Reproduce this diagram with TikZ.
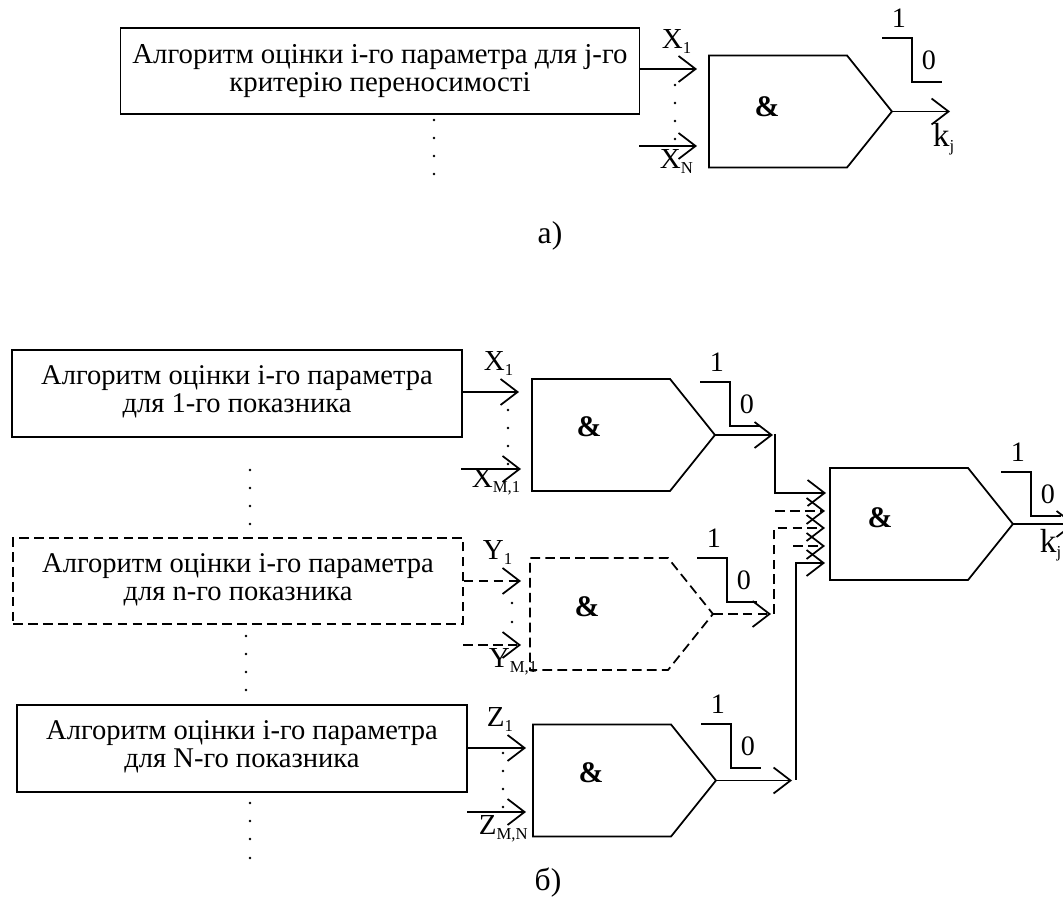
\documentclass[tikz,border=0pt]{standalone}
\usepackage{fontspec}
\setmainfont{Liberation Serif}
\usetikzlibrary{arrows.meta,shapes.symbols}
\newcommand{\subs}[1]{\raisebox{-2.5pt}{\fontsize{9.5}{10}\selectfont #1}}
\tikzset{
  algbox/.style={draw, line width=1pt, align=center, inner sep=0pt, minimum height=1.73cm,
    minimum width=9cm, font=\fontsize{16.25}{16}\selectfont},
  andgate/.style={draw, line width=1pt, shape=signal, signal to=east, signal pointer angle=102.5,
    minimum width=3.66cm, minimum height=2.24cm, inner sep=0pt, outer sep=0pt, anchor=west},
  flowarrow/.style={-{Straight Barb[length=3.4mm,width=5.2mm,line width=1pt]}, line width=1pt},
  dashline/.style={dash pattern=on 5.5pt off 3pt},
  sig/.style={font=\fontsize{16.5}{18}\selectfont, inner sep=0pt, anchor=base west},
  lvl/.style={font=\fontsize{16}{18}\selectfont, inner sep=0pt},
  amp/.style={font=\fontsize{17}{19}\selectfont\bfseries, inner sep=0pt},
  capt/.style={font=\fontsize{18}{20}\selectfont, inner sep=0pt}
}
\begin{document}
\begin{tikzpicture}[x=0.02cm,y=-0.02cm,line width=1pt]
  \useasboundingbox (0,0) rectangle (1063,918);

  % a)
  \node[algbox, minimum width=10.38cm, font=\fontsize{16.4}{16}\selectfont] (boxa) at (380,71)
    {Алгоритм оцінки і-го параметра для j-го\\критерію переносимості\rule[-2.3pt]{0pt}{2.3pt}};
  \node[andgate] (gatea) at (709,111.5) {};
  \node[amp] (ampa) at (767,107) {\&};
  \coordinate (ina1) at (697,69);
  \coordinate (ina2) at (697,146);
  \coordinate (fromxn) at (639,146);
  \coordinate (outa) at (950,112);
  \draw[flowarrow] (boxa.east |- ina1) -- (ina1);
  \draw[flowarrow] (fromxn) -- (ina2);
  \draw[flowarrow] (gatea.east) -- (gatea.east -| outa);
  \node[sig] (xa1) at (661,49) {X\subs{1}};
  \node[sig] (xan) at (659,169) {X\subs{N}};
  \node[sig, font=\fontsize{19}{20}\selectfont] (kja) at (932,147) {k\subs{j}};
  \node[capt] (capa) at (550,236) {а)};

  % б)
  \node[algbox] (boxb1) at (237,393.5)
    {Алгоритм оцінки і-го параметра\\для 1-го показника\rule[-5pt]{0pt}{5pt}};
  \node[algbox, dashline] (boxb2) at (238,581)
    {Алгоритм оцінки і-го параметра\\для n-го показника\rule[-5pt]{0pt}{5pt}};
  \node[algbox] (boxb3) at (242,748.5)
    {Алгоритм оцінки і-го параметра\\для N-го показника\rule[-5pt]{0pt}{5pt}};

  \node[andgate] (gateb1) at (532,435) {};
  \node[andgate, dashline] (gateb2) at (530,614) {};
  \node[andgate] (gateb3) at (533,780.5) {};
  \node[andgate] (gatec) at (830,524) {};
  \node[amp] (ampb1) at (589,427) {\&};
  \node[amp] (ampb2) at (587,607) {\&};
  \node[amp] (ampb3) at (591,773) {\&};
  \node[amp] (ampc) at (880,518) {\&};

  \coordinate (inb1) at (519,392);
  \coordinate (inb1m) at (521,469);
  \coordinate (fromb1m) at (461,469);
  \coordinate (inb2) at (521,581);
  \coordinate (inb2m) at (521,645);
  \coordinate (fromb2m) at (463,645);
  \coordinate (inb3) at (526,748);
  \coordinate (inb3m) at (526,812);
  \coordinate (fromb3m) at (467,812);
  \draw[flowarrow] (boxb1.east |- inb1) -- (inb1);
  \draw[flowarrow] (fromb1m) -- (inb1m);
  \draw[flowarrow, dashline] (boxb2.east |- inb2) -- (inb2);
  \draw[flowarrow, dashline] (fromb2m) -- (inb2m);
  \draw[flowarrow] (boxb3.east |- inb3) -- (inb3);
  \draw[flowarrow] (fromb3m) -- (inb3m);

  \coordinate (outb1) at (773,434);
  \coordinate (outb2) at (771,614);
  \coordinate (outb3) at (792,780);
  \draw[flowarrow] (gateb1.east) -- (gateb1.east -| outb1);
  \draw[flowarrow, dashline] (gateb2.east) -- (gateb2.east -| outb2);
  \draw[flowarrow] (gateb3.east) -- (gateb3.east -| outb3);

  \coordinate (busb1) at (775,434);
  \coordinate (busb2) at (774,614);
  \coordinate (busb3) at (796,780);
  \coordinate (inc1) at (826,493);
  \coordinate (inc2) at (825,511);
  \coordinate (inc3) at (825,528);
  \coordinate (inc4) at (825,546);
  \coordinate (inc5) at (825,563);
  \coordinate (fromc2) at (775,511);
  \coordinate (fromc4) at (793,546);
  \draw[flowarrow] (busb1) |- (inc1);
  \draw[flowarrow, dashline] (fromc2) -- (inc2);
  \draw[flowarrow, dashline] (busb2) |- (inc3);
  \draw[flowarrow, dashline] (fromc4) -- (inc4);
  \draw[flowarrow] (busb3) |- (inc5);

  \coordinate (outc) at (1075,524);
  \draw[flowarrow] (gatec.east) -- (outc);

  \node[sig] (xb1) at (483,371) {X\subs{1}};
  \node[sig] (xbm) at (471,488) {X\subs{M,1}};
  \node[sig] (yb1) at (482,560) {Y\subs{1}};
  \node[sig] (ybm) at (488,668) {Y\subs{M,1}};
  \node[sig] (zb1) at (486,727) {Z\subs{1}};
  \node[sig] (zbm) at (478,835) {Z\subs{M,N}};
  \node[sig, font=\fontsize{19}{20}\selectfont] (kjc) at (1039,553) {k\subs{j}};
  \node[capt] (capb) at (548,883) {б)};

  % step marks with their levels
  \foreach \sx/\sy in {882/38,700/382,697/558,701/724,1001/472}{
    \draw (\sx,\sy) -- ++(30,0) -- ++(0,44) -- ++(30,0);
    \node[lvl] (one\sx) at (\sx+17,\sy-20) {1};
    \node[lvl] (zero\sx) at (\sx+47,\sy+22) {0};
  }

  % dotted columns
  \foreach \dx/\dy in {434/120,434/138,434/156,434/174,675/85,675/103,675/121,675/139,
      508/410,508/428,508/446,508/464,512/603,512/622,503/753,503/771,503/789,503/807,
      250/470,250/488,250/506,250/524,246/636,246/654,246/672,246/690,
      250/803,250/821,250/839,250/858}
    \fill (\dx,\dy) circle (1.4);
\end{tikzpicture}
\end{document}
